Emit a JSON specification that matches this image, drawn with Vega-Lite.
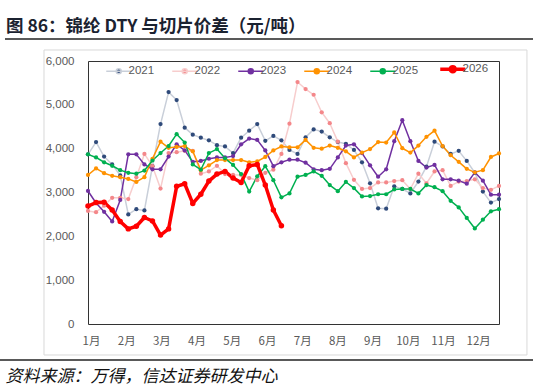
{
  "$schema": "https://vega.github.io/schema/vega-lite/v6.json",
  "width": 411,
  "height": 263,
  "autosize": {"type": "none"},
  "padding": {"left": 88, "top": 61, "right": 34, "bottom": 64},
  "background": "white",
  "title": {
    "text": "图 86：锦纶 DTY 与切片价差（元/吨）",
    "anchor": "start",
    "frame": "group",
    "dx": -82,
    "offset": -12,
    "baseline": "alphabetic",
    "font": "Noto Sans CJK SC",
    "fontWeight": "bold",
    "fontSize": 17.5,
    "color": "#1b2230"
  },
  "data": {
    "values": [
      {"year":"2021","w":0,"v":3870},{"year":"2021","w":1,"v":4150},{"year":"2021","w":2,"v":3820},{"year":"2021","w":3,"v":3640},{"year":"2021","w":4,"v":3390},{"year":"2021","w":5,"v":2500},{"year":"2021","w":6,"v":2620},{"year":"2021","w":7,"v":2590},{"year":"2021","w":8,"v":3600},{"year":"2021","w":9,"v":4560},{"year":"2021","w":10,"v":5290},{"year":"2021","w":11,"v":5110},{"year":"2021","w":12,"v":4480},{"year":"2021","w":13,"v":4320},{"year":"2021","w":14,"v":4250},{"year":"2021","w":15,"v":4190},{"year":"2021","w":16,"v":4080},{"year":"2021","w":17,"v":4050},{"year":"2021","w":18,"v":3900},{"year":"2021","w":19,"v":4250},{"year":"2021","w":20,"v":4410},{"year":"2021","w":21,"v":4560},{"year":"2021","w":22,"v":4180},{"year":"2021","w":23,"v":4290},{"year":"2021","w":24,"v":4190},{"year":"2021","w":25,"v":3970},{"year":"2021","w":26,"v":3880},{"year":"2021","w":27,"v":4260},{"year":"2021","w":28,"v":4440},{"year":"2021","w":29,"v":4390},{"year":"2021","w":30,"v":4260},{"year":"2021","w":31,"v":4150},{"year":"2021","w":32,"v":4110},{"year":"2021","w":33,"v":3970},{"year":"2021","w":34,"v":3690},{"year":"2021","w":35,"v":3210},{"year":"2021","w":36,"v":2640},{"year":"2021","w":37,"v":2630},{"year":"2021","w":38,"v":3140},{"year":"2021","w":39,"v":3080},{"year":"2021","w":40,"v":2980},{"year":"2021","w":41,"v":3250},{"year":"2021","w":42,"v":3590},{"year":"2021","w":43,"v":4160},{"year":"2021","w":44,"v":4050},{"year":"2021","w":45,"v":3880},{"year":"2021","w":46,"v":3950},{"year":"2021","w":47,"v":3720},{"year":"2021","w":48,"v":3450},{"year":"2021","w":49,"v":3020},{"year":"2021","w":50,"v":2770},{"year":"2021","w":51,"v":2850},
      {"year":"2022","w":0,"v":2580},{"year":"2022","w":1,"v":2550},{"year":"2022","w":2,"v":2700},{"year":"2022","w":3,"v":2880},{"year":"2022","w":4,"v":2880},{"year":"2022","w":5,"v":2850},{"year":"2022","w":6,"v":3350},{"year":"2022","w":7,"v":3880},{"year":"2022","w":8,"v":3600},{"year":"2022","w":9,"v":3090},{"year":"2022","w":10,"v":3900},{"year":"2022","w":11,"v":3920},{"year":"2022","w":12,"v":3950},{"year":"2022","w":13,"v":3950},{"year":"2022","w":14,"v":3430},{"year":"2022","w":15,"v":3480},{"year":"2022","w":16,"v":3610},{"year":"2022","w":17,"v":3420},{"year":"2022","w":18,"v":3400},{"year":"2022","w":19,"v":3400},{"year":"2022","w":20,"v":3330},{"year":"2022","w":21,"v":3280},{"year":"2022","w":22,"v":3450},{"year":"2022","w":23,"v":3520},{"year":"2022","w":24,"v":3880},{"year":"2022","w":25,"v":4570},{"year":"2022","w":26,"v":5520},{"year":"2022","w":27,"v":5360},{"year":"2022","w":28,"v":5230},{"year":"2022","w":29,"v":4830},{"year":"2022","w":30,"v":4580},{"year":"2022","w":31,"v":4160},{"year":"2022","w":32,"v":3670},{"year":"2022","w":33,"v":3290},{"year":"2022","w":34,"v":3080},{"year":"2022","w":35,"v":3100},{"year":"2022","w":36,"v":3230},{"year":"2022","w":37,"v":3230},{"year":"2022","w":38,"v":3260},{"year":"2022","w":39,"v":3280},{"year":"2022","w":40,"v":3080},{"year":"2022","w":41,"v":3430},{"year":"2022","w":42,"v":3210},{"year":"2022","w":43,"v":3480},{"year":"2022","w":44,"v":3510},{"year":"2022","w":45,"v":3150},{"year":"2022","w":46,"v":3250},{"year":"2022","w":47,"v":3260},{"year":"2022","w":48,"v":3300},{"year":"2022","w":49,"v":3100},{"year":"2022","w":50,"v":3060},{"year":"2022","w":51,"v":3150},
      {"year":"2023","w":0,"v":3035},{"year":"2023","w":1,"v":2760},{"year":"2023","w":2,"v":2560},{"year":"2023","w":3,"v":2340},{"year":"2023","w":4,"v":2830},{"year":"2023","w":5,"v":3870},{"year":"2023","w":6,"v":3870},{"year":"2023","w":7,"v":3640},{"year":"2023","w":8,"v":3530},{"year":"2023","w":9,"v":3530},{"year":"2023","w":10,"v":3820},{"year":"2023","w":11,"v":4100},{"year":"2023","w":12,"v":3960},{"year":"2023","w":13,"v":3700},{"year":"2023","w":14,"v":3720},{"year":"2023","w":15,"v":3770},{"year":"2023","w":16,"v":3800},{"year":"2023","w":17,"v":3800},{"year":"2023","w":18,"v":3830},{"year":"2023","w":19,"v":4100},{"year":"2023","w":20,"v":4230},{"year":"2023","w":21,"v":4200},{"year":"2023","w":22,"v":3960},{"year":"2023","w":23,"v":3600},{"year":"2023","w":24,"v":3690},{"year":"2023","w":25,"v":3750},{"year":"2023","w":26,"v":3750},{"year":"2023","w":27,"v":3680},{"year":"2023","w":28,"v":3530},{"year":"2023","w":29,"v":3510},{"year":"2023","w":30,"v":3540},{"year":"2023","w":31,"v":3800},{"year":"2023","w":32,"v":4070},{"year":"2023","w":33,"v":4100},{"year":"2023","w":34,"v":3900},{"year":"2023","w":35,"v":3620},{"year":"2023","w":36,"v":3360},{"year":"2023","w":37,"v":3530},{"year":"2023","w":38,"v":4170},{"year":"2023","w":39,"v":4650},{"year":"2023","w":40,"v":4170},{"year":"2023","w":41,"v":3720},{"year":"2023","w":42,"v":3570},{"year":"2023","w":43,"v":3630},{"year":"2023","w":44,"v":3300},{"year":"2023","w":45,"v":3300},{"year":"2023","w":46,"v":3270},{"year":"2023","w":47,"v":3200},{"year":"2023","w":48,"v":3460},{"year":"2023","w":49,"v":3270},{"year":"2023","w":50,"v":2950},{"year":"2023","w":51,"v":2950},
      {"year":"2024","w":0,"v":3400},{"year":"2024","w":1,"v":3550},{"year":"2024","w":2,"v":3440},{"year":"2024","w":3,"v":3380},{"year":"2024","w":4,"v":3350},{"year":"2024","w":5,"v":3310},{"year":"2024","w":6,"v":3240},{"year":"2024","w":7,"v":3350},{"year":"2024","w":8,"v":3770},{"year":"2024","w":9,"v":4160},{"year":"2024","w":10,"v":4020},{"year":"2024","w":11,"v":4040},{"year":"2024","w":12,"v":4060},{"year":"2024","w":13,"v":3940},{"year":"2024","w":14,"v":3510},{"year":"2024","w":15,"v":3620},{"year":"2024","w":16,"v":3740},{"year":"2024","w":17,"v":3740},{"year":"2024","w":18,"v":3740},{"year":"2024","w":19,"v":3740},{"year":"2024","w":20,"v":3690},{"year":"2024","w":21,"v":3710},{"year":"2024","w":22,"v":3810},{"year":"2024","w":23,"v":3960},{"year":"2024","w":24,"v":4050},{"year":"2024","w":25,"v":4030},{"year":"2024","w":26,"v":4030},{"year":"2024","w":27,"v":4200},{"year":"2024","w":28,"v":4020},{"year":"2024","w":29,"v":4000},{"year":"2024","w":30,"v":4070},{"year":"2024","w":31,"v":4020},{"year":"2024","w":32,"v":3940},{"year":"2024","w":33,"v":3800},{"year":"2024","w":34,"v":3910},{"year":"2024","w":35,"v":3990},{"year":"2024","w":36,"v":4150},{"year":"2024","w":37,"v":4140},{"year":"2024","w":38,"v":4370},{"year":"2024","w":39,"v":4010},{"year":"2024","w":40,"v":3910},{"year":"2024","w":41,"v":4070},{"year":"2024","w":42,"v":4270},{"year":"2024","w":43,"v":4410},{"year":"2024","w":44,"v":4060},{"year":"2024","w":45,"v":3850},{"year":"2024","w":46,"v":3700},{"year":"2024","w":47,"v":3540},{"year":"2024","w":48,"v":3460},{"year":"2024","w":49,"v":3510},{"year":"2024","w":50,"v":3810},{"year":"2024","w":51,"v":3890},
      {"year":"2025","w":0,"v":3870},{"year":"2025","w":1,"v":3800},{"year":"2025","w":2,"v":3690},{"year":"2025","w":3,"v":3610},{"year":"2025","w":4,"v":3510},{"year":"2025","w":5,"v":3450},{"year":"2025","w":6,"v":3430},{"year":"2025","w":7,"v":3500},{"year":"2025","w":8,"v":3730},{"year":"2025","w":9,"v":3900},{"year":"2025","w":10,"v":4060},{"year":"2025","w":11,"v":4330},{"year":"2025","w":12,"v":4140},{"year":"2025","w":13,"v":3640},{"year":"2025","w":14,"v":3520},{"year":"2025","w":15,"v":3900},{"year":"2025","w":16,"v":3990},{"year":"2025","w":17,"v":3780},{"year":"2025","w":18,"v":3630},{"year":"2025","w":19,"v":3420},{"year":"2025","w":20,"v":3020},{"year":"2025","w":21,"v":3370},{"year":"2025","w":22,"v":3600},{"year":"2025","w":23,"v":3280},{"year":"2025","w":24,"v":2890},{"year":"2025","w":25,"v":2980},{"year":"2025","w":26,"v":3360},{"year":"2025","w":27,"v":3400},{"year":"2025","w":28,"v":3480},{"year":"2025","w":29,"v":3380},{"year":"2025","w":30,"v":3170},{"year":"2025","w":31,"v":3030},{"year":"2025","w":32,"v":3240},{"year":"2025","w":33,"v":3100},{"year":"2025","w":34,"v":2910},{"year":"2025","w":35,"v":2920},{"year":"2025","w":36,"v":2960},{"year":"2025","w":37,"v":2960},{"year":"2025","w":38,"v":3070},{"year":"2025","w":39,"v":3080},{"year":"2025","w":40,"v":3080},{"year":"2025","w":41,"v":2980},{"year":"2025","w":42,"v":3170},{"year":"2025","w":43,"v":3120},{"year":"2025","w":44,"v":3030},{"year":"2025","w":45,"v":2810},{"year":"2025","w":46,"v":2660},{"year":"2025","w":47,"v":2420},{"year":"2025","w":48,"v":2180},{"year":"2025","w":49,"v":2380},{"year":"2025","w":50,"v":2570},{"year":"2025","w":51,"v":2620},
      {"year":"2026","w":0,"v":2690},{"year":"2026","w":1,"v":2770},{"year":"2026","w":2,"v":2780},{"year":"2026","w":3,"v":2600},{"year":"2026","w":4,"v":2340},{"year":"2026","w":5,"v":2170},{"year":"2026","w":6,"v":2230},{"year":"2026","w":7,"v":2430},{"year":"2026","w":8,"v":2350},{"year":"2026","w":9,"v":2030},{"year":"2026","w":10,"v":2170},{"year":"2026","w":11,"v":3140},{"year":"2026","w":12,"v":3200},{"year":"2026","w":13,"v":2750},{"year":"2026","w":14,"v":2960},{"year":"2026","w":15,"v":3260},{"year":"2026","w":16,"v":3420},{"year":"2026","w":17,"v":3480},{"year":"2026","w":18,"v":3330},{"year":"2026","w":19,"v":3230},{"year":"2026","w":20,"v":3610},{"year":"2026","w":21,"v":3640},{"year":"2026","w":22,"v":3170},{"year":"2026","w":23,"v":2600},{"year":"2026","w":24,"v":2240}
    ]
  },
  "layer": [
    {
      "mark": {"type": "line", "strokeJoin": "round"},
      "encoding": {
        "x": {
          "field": "w",
          "type": "quantitative",
          "scale": {"domain": [0, 51], "nice": false, "zero": false},
          "axis": {
            "values": [0.37, 4.74, 9.11, 13.47, 17.84, 22.21, 26.58, 30.95, 35.31, 39.68, 44.05, 48.42],
            "tickCount": 24,
            "labelExpr": "(round((datum.value - 0.37) / 4.368) + 1) + '月'",
            "labelOverlap": false,
            "ticks": false,
            "domain": false,
            "grid": false,
            "labelPadding": 11,
            "labelFontSize": 11.5,
            "labelColor": "#595959",
            "labelFont": "Noto Sans CJK SC",
            "title": "资料来源：万得，信达证券研发中心",
            "titleX": -83,
            "titleY": 52,
            "titleAlign": "left",
            "titleBaseline": "middle",
            "titleFont": "Noto Sans CJK SC",
            "titleFontStyle": "italic",
            "titleFontWeight": "normal",
            "titleFontSize": 17,
            "titleColor": "#111111"
          }
        },
        "y": {
          "field": "v",
          "type": "quantitative",
          "scale": {"domain": [0, 6000], "nice": false},
          "axis": {
            "values": [0, 1000, 2000, 3000, 4000, 5000, 6000],
            "tickCount": 12,
            "format": ",d",
            "ticks": false,
            "domain": false,
            "grid": false,
            "labelPadding": 14,
            "labelFontSize": 11.5,
            "labelColor": "#595959",
            "labelFont": "Liberation Sans",
            "title": null
          }
        },
        "stroke": {
          "field": "year",
          "type": "nominal",
          "scale": {
            "domain": ["2021", "2022", "2023", "2024", "2025", "2026"],
            "range": ["#c9cfd9", "#f7cdcd", "#7030a0", "#ff9200", "#00b050", "#ff0000"]
          },
          "legend": {
            "orient": "none",
            "legendX": 25,
            "legendY": 2,
            "direction": "horizontal",
            "title": null,
            "padding": 0,
            "symbolType": "M-1,0H1M0.2,0A0.2,0.2,0,1,1,-0.2,0A0.2,0.2,0,1,1,0.2,0Z",
            "symbolSize": 625,
            "symbolStrokeWidth": 1.5,
            "labelFontSize": 11.5,
            "labelColor": "#595959",
            "labelFont": "Liberation Sans",
            "labelOffset": 4,
            "columnPadding": 14,
            "encode": {
              "symbols": {
                "update": {
                  "size": {"value": 625},
                  "strokeWidth": {"signal": "datum.value === '2026' ? 3.5 : 1.5"}
                }
              }
            }
          }
        },
        "strokeWidth": {
          "condition": {"test": "datum.year === '2026'", "value": 3.5},
          "value": 1.5
        }
      }
    },
    {
      "mark": {"type": "circle", "opacity": 1},
      "encoding": {
        "x": {"field": "w", "type": "quantitative"},
        "y": {"field": "v", "type": "quantitative"},
        "fill": {
          "field": "year",
          "type": "nominal",
          "scale": {
            "domain": ["2021", "2022", "2023", "2024", "2025", "2026"],
            "range": ["#2f4a7a", "#f4878a", "#7030a0", "#ff9200", "#00b050", "#ff0000"]
          },
          "legend": {
            "orient": "none",
            "legendX": 25,
            "legendY": 2,
            "direction": "horizontal",
            "title": null,
            "padding": 0,
            "symbolType": "M-1,0H1M0.2,0A0.2,0.2,0,1,1,-0.2,0A0.2,0.2,0,1,1,0.2,0Z",
            "symbolSize": 625,
            "symbolStrokeWidth": 1.5,
            "labelFontSize": 11.5,
            "labelColor": "#595959",
            "labelFont": "Liberation Sans",
            "labelOffset": 4,
            "columnPadding": 14,
            "encode": {
              "symbols": {
                "update": {
                  "size": {"value": 625},
                  "strokeWidth": {"signal": "datum.value === '2026' ? 3.5 : 1.5"}
                }
              }
            }
          }
        },
        "size": {
          "condition": {"test": "datum.year === '2026'", "value": 30},
          "value": 18
        }
      }
    },
    {
      "data": {"values": [{}]},
      "mark": {"type": "rect", "filled": false, "stroke": "#d9d9d9", "strokeWidth": 1},
      "encoding": {
        "x": {"datum": -5.46, "type": "quantitative"},
        "x2": {"datum": 54.47},
        "y": {"datum": -707, "type": "quantitative"},
        "y2": {"datum": 6251}
      }
    },
    {
      "data": {"values": [{}]},
      "mark": {"type": "rule", "color": "#595959", "strokeWidth": 2},
      "encoding": {
        "x": {"datum": -10.3, "type": "quantitative"},
        "x2": {"datum": 55.22},
        "y": {"datum": 6502, "type": "quantitative"}
      }
    },
    {
      "data": {"values": [{}]},
      "mark": {"type": "rule", "color": "#595959", "strokeWidth": 2},
      "encoding": {
        "x": {"datum": -10.92, "type": "quantitative"},
        "x2": {"datum": 55.22},
        "y": {"datum": -821, "type": "quantitative"}
      }
    }
  ],
  "config": {
    "view": {"stroke": "#333333", "strokeWidth": 1},
    "font": "Liberation Sans",
    "axis": {"labelOverlap": false}
  }
}
